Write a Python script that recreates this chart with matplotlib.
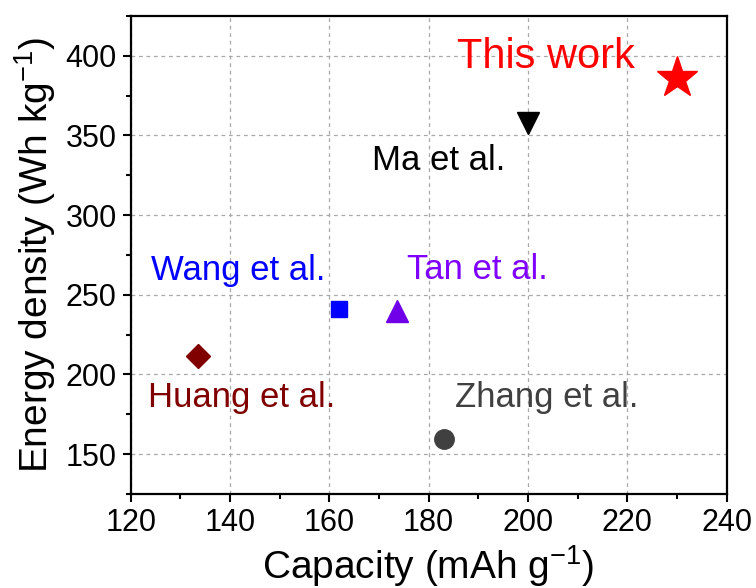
import matplotlib
matplotlib.use("Agg")
import matplotlib.pyplot as plt
from matplotlib.ticker import MultipleLocator

# ---- data ----
labels = ["This work", "Ma et al.", "Wang et al.", "Tan et al.", "Huang et al.", "Zhang et al."]
capacity = [230.0, 200.0, 162.0, 173.6, 133.6, 183.1]      # mAh g-1
energy_density = [386.0, 358.0, 241.0, 240.0, 211.5, 159.5]  # Wh kg-1

# ---- styles / layout ----
markers = ["*", "v", "s", "^", "D", "o"]
marker_sizes = [31, 16, 12, 16, 12, 14]
marker_colors = ["#ff0000", "#000000", "#0000ff", "#7000e8", "#800000", "#404040"]
text_colors = ["#ff0000", "#000000", "#0000ff", "#8000ff", "#800000", "#404040"]
text_sizes = [30, 25, 25, 25, 25, 25]
# text anchor (left, baseline) in data coordinates
text_pos = [(185.7, 392.3), (168.5, 328.2), (124.0, 259.4),
            (175.7, 259.8), (123.5, 179.5), (185.3, 179.5)]

plt.rcParams["font.family"] = ["Liberation Sans", "DejaVu Sans"]
plt.rcParams["mathtext.fontset"] = "custom"
plt.rcParams["mathtext.rm"] = "Liberation Sans"
plt.rcParams["mathtext.it"] = "Liberation Sans:italic"
plt.rcParams["mathtext.bf"] = "Liberation Sans:bold"

fig = plt.figure(figsize=(7.56, 5.88), dpi=100)
ax = fig.add_axes([0.1729, 0.160, 0.961 - 0.1729, 0.973 - 0.160])

for x, y, m, ms, c in zip(capacity, energy_density, markers, marker_sizes, marker_colors):
    ax.plot([x], [y], linestyle="none", marker=m, markersize=ms,
            color=c, markeredgecolor=c, zorder=3)

for lab, (tx, ty), c, fs in zip(labels, text_pos, text_colors, text_sizes):
    ax.text(tx, ty, lab, color=c, fontsize=fs, ha="left", va="baseline", zorder=4)

ax.set_xlim(120, 240)
ax.set_ylim(125, 425)
ax.xaxis.set_major_locator(MultipleLocator(20))
ax.xaxis.set_minor_locator(MultipleLocator(10))
ax.yaxis.set_major_locator(MultipleLocator(50))
ax.yaxis.set_minor_locator(MultipleLocator(25))

ax.grid(True, which="major", color="#a8a8a8", linestyle=(0, (3, 3)), linewidth=0.9, zorder=0)
ax.set_axisbelow(True)

for s in ax.spines.values():
    s.set_linewidth(1.6)
ax.tick_params(which="major", direction="out", length=6, width=1.5, labelsize=22,
               top=False, right=False, pad=4)
ax.tick_params(which="minor", direction="out", length=3.5, width=1.5,
               top=False, right=False)

ax.set_xlabel(r"Capacity (mAh g$^{\mathregular{-1}}$)", fontsize=28)
ax.set_ylabel(r"Energy density (Wh kg$^{\mathregular{-1}}$)", fontsize=28)
ax.xaxis.set_label_coords(0.499, -0.150)
ax.xaxis.label.set_va("center")
ax.yaxis.set_label_coords(-0.160, 0.5)
ax.yaxis.label.set_va("center")

fig.savefig("out.png", dpi=100)
